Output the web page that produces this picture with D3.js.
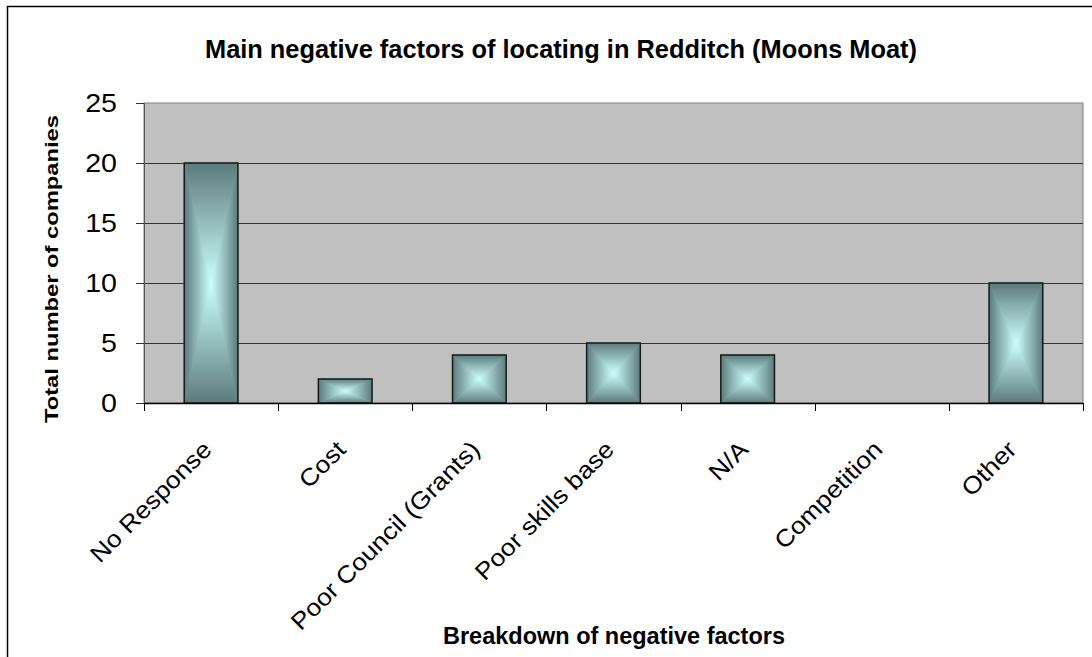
<!DOCTYPE html>
<html>
<head>
<meta charset="utf-8">
<script src="https://cdn.jsdelivr.net/npm/d3@7"></script>
<style>
	body { margin: 0; background: #fff; }
	text { font-family: "Liberation Sans", Arial, sans-serif; }
</style>
</head>
<body>
<script>
	// chart values
	const categories = ["No Response", "Cost", "Poor Council (Grants)", "Poor skills base", "N/A", "Competition", "Other"];
	const counts = [20, 2, 4, 5, 4, 0, 10];
	const yTicks = [0, 5, 10, 15, 20, 25];

	const width = 1092;
	const height = 657;
	const plot = { left: 144, right: 1083, top: 103, bottom: 403 };

	let svg = d3.select("body")
		.append("svg")
		.attr("width", width)
		.attr("height", height);

	// the original text is a bit stretched along its length
	function stretch(sel, k) {
		sel.each(function () {
			let len = this.getComputedTextLength();
			d3.select(this)
				.attr("textLength", len * k)
				.attr("lengthAdjust", "spacingAndGlyphs");
		});
	}

	// gradients for the box-shaded bars
	let defs = svg.append("defs");
	const dark = "#5c7b7b";
	const light = "#ccffff";
	function grad(id, x1, y1, x2, y2, c1, c2) {
		let g = defs.append("linearGradient")
			.attr("id", id)
			.attr("x1", x1).attr("y1", y1)
			.attr("x2", x2).attr("y2", y2);
		g.append("stop").attr("offset", "0%").attr("stop-color", c1);
		g.append("stop").attr("offset", "100%").attr("stop-color", c2);
	}
	grad("gl", 0, 0, 1, 0, dark, light);
	grad("gr", 0, 0, 1, 0, light, dark);
	grad("gt", 0, 0, 0, 1, dark, light);
	grad("gb", 0, 0, 0, 1, light, dark);

	// outer chart border
	svg.append("rect")
		.attr("x", 7.5)
		.attr("y", 6.5)
		.attr("width", 1200)
		.attr("height", 800)
		.attr("fill", "none")
		.attr("stroke", "#000")
		.attr("stroke-width", 1.5);

	let xScale = d3.scaleBand()
		.domain(categories)
		.range([plot.left, plot.right])
		.paddingInner(0.6)
		.paddingOuter(0.3);

	let yScale = d3.scaleLinear()
		.domain([0, 25])
		.range([plot.bottom, plot.top]);

	// plot area
	svg.append("rect")
		.attr("x", plot.left)
		.attr("y", plot.top)
		.attr("width", plot.right - plot.left)
		.attr("height", plot.bottom - plot.top)
		.attr("fill", "#c0c0c0")
		.attr("stroke", "#808080")
		.attr("stroke-width", 1);

	// gridlines
	svg.append("g")
		.selectAll("line")
		.data(yTicks.filter((d) => d > 0 && d < 25))
		.enter()
		.append("line")
		.attr("x1", plot.left)
		.attr("x2", plot.right)
		.attr("y1", (d) => Math.round(yScale(d)) + 0.5)
		.attr("y2", (d) => Math.round(yScale(d)) + 0.5)
		.attr("stroke", "#333")
		.attr("stroke-width", 1);

	// y axis
	let yAxis = d3.axisLeft(yScale).tickValues(yTicks).tickSize(8).tickPadding(19);
	let yG = svg.append("g")
		.attr("transform", "translate(" + plot.left + ",0)")
		.call(yAxis);
	yG.select(".domain").attr("stroke", "#555");
	yG.selectAll(".tick line").attr("stroke", "#333");
	yG.selectAll(".tick text")
		.attr("font-size", 26)
		.attr("fill", "#000")
		.style("font-family", "'Liberation Sans', Arial, sans-serif")
		.call(stretch, 1.1);

	// bars, each made of four triangles to get the box gradient
	let bars = svg.append("g")
		.selectAll("g")
		.data(counts.map((v, i) => ({ cat: categories[i], value: v })).filter((d) => d.value > 0))
		.enter()
		.append("g");

	function tri(d, side) {
		let x0 = xScale(d.cat);
		let x1 = x0 + xScale.bandwidth();
		let y0 = yScale(d.value);
		let y1 = yScale(0);
		let cx = (x0 + x1) / 2;
		let cy = (y0 + y1) / 2;
		let pts;
		if (side == "l") pts = [[x0, y0], [cx, cy], [x0, y1]];
		if (side == "r") pts = [[x1, y0], [cx, cy], [x1, y1]];
		if (side == "t") pts = [[x0, y0], [x1, y0], [cx, cy]];
		if (side == "b") pts = [[x0, y1], [x1, y1], [cx, cy]];
		return "M" + pts.map((p) => p.join(",")).join("L") + "Z";
	}
	["l", "r", "t", "b"].forEach((s) => {
		bars.append("path")
			.attr("d", (d) => tri(d, s))
			.attr("fill", "url(#g" + s + ")")
			.attr("stroke", "url(#g" + s + ")")
			.attr("stroke-width", 0.6);
	});
	bars.append("rect")
		.attr("x", (d) => xScale(d.cat))
		.attr("y", (d) => yScale(d.value))
		.attr("width", xScale.bandwidth())
		.attr("height", (d) => yScale(0) - yScale(d.value))
		.attr("fill", "none")
		.attr("stroke", "#1a1a1a")
		.attr("stroke-width", 1.5);

	// x axis line and boundary ticks
	let step = (plot.right - plot.left) / categories.length;
	let xAxisG = svg.append("g");
	xAxisG.append("line")
		.attr("x1", plot.left)
		.attr("x2", plot.right)
		.attr("y1", plot.bottom + 0.5)
		.attr("y2", plot.bottom + 0.5)
		.attr("stroke", "#000")
		.attr("stroke-width", 1.5);
	xAxisG.selectAll(".bt")
		.data(d3.range(categories.length + 1))
		.enter()
		.append("line")
		.attr("x1", (i) => Math.round(plot.left + i * step) + 0.5)
		.attr("x2", (i) => Math.round(plot.left + i * step) + 0.5)
		.attr("y1", plot.bottom)
		.attr("y2", plot.bottom + 8)
		.attr("stroke", "#000");

	// rotated category labels
	xAxisG.selectAll(".lab")
		.data(categories)
		.enter()
		.append("text")
		.attr("font-size", 24)
		.attr("text-anchor", "end")
		.attr("transform", (d) => "translate(" + (xScale(d) + xScale.bandwidth() / 2 + 2) + "," + (plot.bottom + 48) + ") rotate(-45)")
		.text((d) => d)
		.call(stretch, 1.1);

	// titles
	svg.append("text")
		.attr("x", 561)
		.attr("y", 58)
		.attr("text-anchor", "middle")
		.attr("font-size", 26)
		.attr("font-weight", "bold")
		.attr("textLength", 712)
		.attr("lengthAdjust", "spacingAndGlyphs")
		.text("Main negative factors of locating in Redditch (Moons Moat)");

	svg.append("text")
		.attr("x", 614)
		.attr("y", 644)
		.attr("text-anchor", "middle")
		.attr("font-size", 24)
		.attr("font-weight", "bold")
		.attr("textLength", 342)
		.attr("lengthAdjust", "spacingAndGlyphs")
		.text("Breakdown of negative factors");

	svg.append("text")
		.attr("transform", "translate(58,269) rotate(-90)")
		.attr("text-anchor", "middle")
		.attr("font-size", 19)
		.attr("font-weight", "bold")
		.attr("textLength", 308)
		.attr("lengthAdjust", "spacingAndGlyphs")
		.text("Total number of companies");
</script>
</body>
</html>
